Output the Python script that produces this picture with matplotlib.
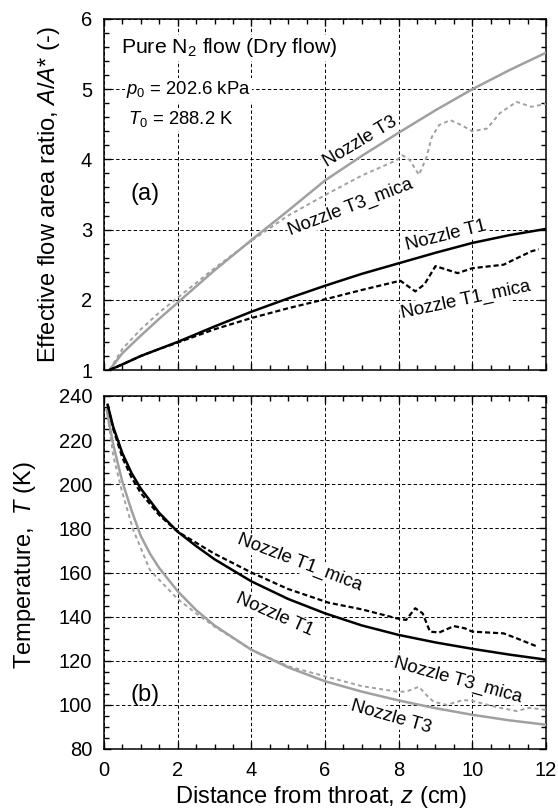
import matplotlib
matplotlib.use("Agg")
import matplotlib.pyplot as plt
from matplotlib.ticker import MultipleLocator

plt.rcParams["font.family"] = ["Liberation Sans", "DejaVu Sans"]
plt.rcParams["mathtext.fontset"] = "custom"
plt.rcParams["mathtext.rm"] = "Liberation Sans"
plt.rcParams["mathtext.it"] = "Liberation Sans:italic"
plt.rcParams["mathtext.default"] = "regular"

# ---- (a) effective flow area ratio ----
x_t3 = [0.15, 0.5, 1, 1.5, 2, 3, 4, 5, 6, 7, 8, 9, 10, 11, 12]
a_t3 = [1.0, 1.24, 1.49, 1.73, 1.96, 2.42, 2.85, 3.27, 3.70, 4.05, 4.38, 4.70, 5.0, 5.27, 5.52]

x_t3m = [0.15, 0.5, 1, 1.5, 2, 3, 4, 5, 6.1, 7, 7.95, 8.1, 8.3, 8.55, 8.75, 8.9,
         9.1, 9.4, 9.7, 10.0, 10.4, 10.75, 11.2, 11.6, 12]
a_t3m = [1.0, 1.3, 1.58, 1.82, 2.03, 2.45, 2.84, 3.2, 3.52, 3.77, 3.99, 4.06, 3.99,
         3.78, 4.02, 4.32, 4.49, 4.56, 4.49, 4.40, 4.44, 4.66, 4.82, 4.75, 4.79]

x_t1 = [0.15, 0.5, 1, 1.5, 2, 3, 4, 5, 6, 7, 8, 9, 10, 11, 12]
a_t1 = [1.0, 1.08, 1.2, 1.3, 1.40, 1.62, 1.83, 2.02, 2.20, 2.37, 2.52, 2.67, 2.81, 2.92, 3.01]

x_t1m = [0.15, 0.5, 1, 1.5, 2, 3, 4, 5, 6.1, 7, 7.95, 8.05, 8.45, 8.7, 9.0, 9.3,
         9.6, 10.0, 10.85, 11.2, 11.6, 11.8]
a_t1m = [1.0, 1.08, 1.2, 1.3, 1.39, 1.58, 1.74, 1.88, 2.02, 2.14, 2.26, 2.27, 2.12,
         2.22, 2.48, 2.43, 2.38, 2.45, 2.50, 2.59, 2.69, 2.72]

# ---- (b) temperature ----
x_b1 = [0.1, 0.25, 0.5, 0.75, 1, 1.5, 2, 2.5, 3, 3.5, 4, 5, 6, 7, 8, 9, 10, 11, 12]
T_b1 = [236, 226, 214, 205, 198, 187, 178.5, 172, 166, 161, 156, 148, 141.5, 136,
        131.7, 128.3, 125.4, 122.8, 120.5]

x_b1m = [0.1, 0.25, 0.5, 0.75, 1, 1.5, 2, 2.5, 3, 4, 5, 6.1, 7, 7.95, 8.2, 8.45,
         8.65, 8.85, 9.1, 9.5, 9.8, 10.0, 10.85, 11.2, 11.75]
T_b1m = [236, 225, 212, 203, 196, 186, 178.5, 173.5, 168.5, 160, 152.5, 146.3, 143.3,
         139.2, 138.5, 143.8, 141.5, 133.2, 132.8, 135.7, 134.7, 133.2, 132.4, 130.2, 126.5]

x_b3 = [0.07, 0.25, 0.5, 0.75, 1, 1.25, 1.5, 2, 2.5, 3, 4, 5, 6, 7, 8, 9, 10, 11, 12]
T_b3 = [234, 218, 201, 188, 176.5, 168.5, 162, 151.5, 143, 136, 125, 117, 110.7, 106,
        102, 98.5, 95.5, 93, 91]

x_b3m = [0.1, 0.25, 0.5, 0.8, 1.25, 2, 2.5, 3, 4, 5, 6.1, 7, 7.95, 8.2, 8.55, 8.75,
         8.95, 9.3, 9.75, 10.0, 10.65, 11.2, 11.55, 12]
T_b3m = [231, 213, 196, 179, 161, 148, 141.5, 135.5, 125, 117.5, 112.5, 108.5, 106,
         106, 108.2, 104.5, 101.4, 100, 102.2, 101.8, 99, 97.2, 98.7, 97.7]

gray = "#a0a0a0"
W, H = 558, 809
fig = plt.figure(figsize=(W / 100, H / 100), dpi=100)
ax1 = fig.add_axes([104 / W, 1 - 370 / H, 442 / W, 351 / H])
ax2 = fig.add_axes([104 / W, 1 - 749 / H, 442 / W, 353 / H])

for ax in (ax1, ax2):
    ax.set_axisbelow(True)
    ax.grid(True, which="major", color="black", ls=(0, (3.5, 2.5)), lw=0.7)
    ax.tick_params(which="both", direction="in", top=True, right=True,
                   labelsize=14.5, width=1.0, pad=8.5)
    ax.tick_params(which="major", length=5)
    ax.tick_params(which="minor", length=3.5)
    ax.xaxis.set_major_locator(MultipleLocator(2))
    ax.xaxis.set_minor_locator(MultipleLocator(0.5))
    ax.set_xlim(0, 12)
    for s in ax.spines.values():
        s.set_linewidth(1.1)

lbox = dict(facecolor="white", edgecolor="none", pad=1)
nfs = 13.3
solid_kw = dict(lw=1.8, zorder=3)
bdash = (0, (2.3, 1.3))
gdash = (0, (2, 1.7))

# panel (a)
ax1.plot(x_t3, a_t3, color=gray, **solid_kw)
ax1.plot(x_t3m, a_t3m, color=gray, lw=1.4, ls=gdash, zorder=3)
ax1.plot(x_t1, a_t1, color="black", **solid_kw)
ax1.plot(x_t1m, a_t1m, color="black", lw=1.6, ls=bdash, zorder=3)
ax1.set_ylim(1, 6)
ax1.yaxis.set_major_locator(MultipleLocator(1))
ax1.yaxis.set_minor_locator(MultipleLocator(0.2))
ax1.tick_params(labelbottom=False)
ax1.set_ylabel("Effective flow area ratio, $\\mathit{A/A}$* (-)", fontsize=17)
ax1.yaxis.set_label_coords(-0.095, 0.5)

ax1.text(0.45, 5.59, "Pure N$_2$ flow (Dry flow)", fontsize=15.3, va="center",
         bbox=lbox, zorder=1.5)
ax1.text(0.6, 4.99, "$\\mathit{p}_0$ = 202.6 kPa", fontsize=13.3, va="center",
         bbox=lbox, zorder=1.5)
ax1.text(0.65, 4.57, "$\\mathit{T}_0$ = 288.2 K", fontsize=13.3, va="center",
         bbox=lbox, zorder=1.5)
ax1.text(1.11, 3.51, "(a)", fontsize=17, ha="center", va="center", zorder=1.5)
ax1.text(6.95, 4.25, "Nozzle T3", fontsize=nfs, ha="center", va="center",
         rotation=31, rotation_mode="anchor", bbox=lbox, zorder=1.5)
ax1.text(6.7, 3.32, "Nozzle T3_mica", fontsize=nfs, ha="center", va="center",
         rotation=21, rotation_mode="anchor", bbox=lbox, zorder=1.5)
ax1.text(9.3, 2.91, "Nozzle T1", fontsize=nfs, ha="center", va="center",
         rotation=14, rotation_mode="anchor", bbox=lbox, zorder=1.5)
ax1.text(9.83, 2.0, "Nozzle T1_mica", fontsize=nfs, ha="center", va="center",
         rotation=12, rotation_mode="anchor", bbox=lbox, zorder=1.5)

# panel (b)
ax2.plot(x_b3, T_b3, color=gray, **solid_kw)
ax2.plot(x_b3m, T_b3m, color=gray, lw=1.4, ls=gdash, zorder=3)
ax2.plot(x_b1, T_b1, color="black", **solid_kw)
ax2.plot(x_b1m, T_b1m, color="black", lw=1.6, ls=bdash, zorder=3)
ax2.set_ylim(80, 240)
ax2.yaxis.set_major_locator(MultipleLocator(20))
ax2.yaxis.set_minor_locator(MultipleLocator(5))
ax2.set_ylabel("Temperature,  $\\mathit{T}$ (K)", fontsize=17)
ax2.yaxis.set_label_coords(-0.149, 0.52)
ax2.set_xlabel("Distance from throat, $\\mathit{z}$ (cm)", fontsize=17)
ax2.xaxis.set_label_coords(0.49, -0.1)

ax2.text(1.11, 104.5, "(b)", fontsize=17, ha="center", va="center", zorder=1.5)
ax2.text(5.32, 164.3, "Nozzle T1_mica", fontsize=nfs, ha="center", va="center",
         rotation=-21, rotation_mode="anchor", bbox=lbox, zorder=1.5)
ax2.text(4.64, 140.7, "Nozzle T1", fontsize=nfs, ha="center", va="center",
         rotation=-24, rotation_mode="anchor", bbox=lbox, zorder=1.5)
ax2.text(9.61, 111.3, "Nozzle T3_mica", fontsize=nfs, ha="center", va="center",
         rotation=-15.5, rotation_mode="anchor", bbox=lbox, zorder=1.5)
ax2.text(7.79, 94.5, "Nozzle T3", fontsize=nfs, ha="center", va="center",
         rotation=-16, rotation_mode="anchor", bbox=lbox, zorder=1.5)

fig.savefig("out.png", dpi=100)
